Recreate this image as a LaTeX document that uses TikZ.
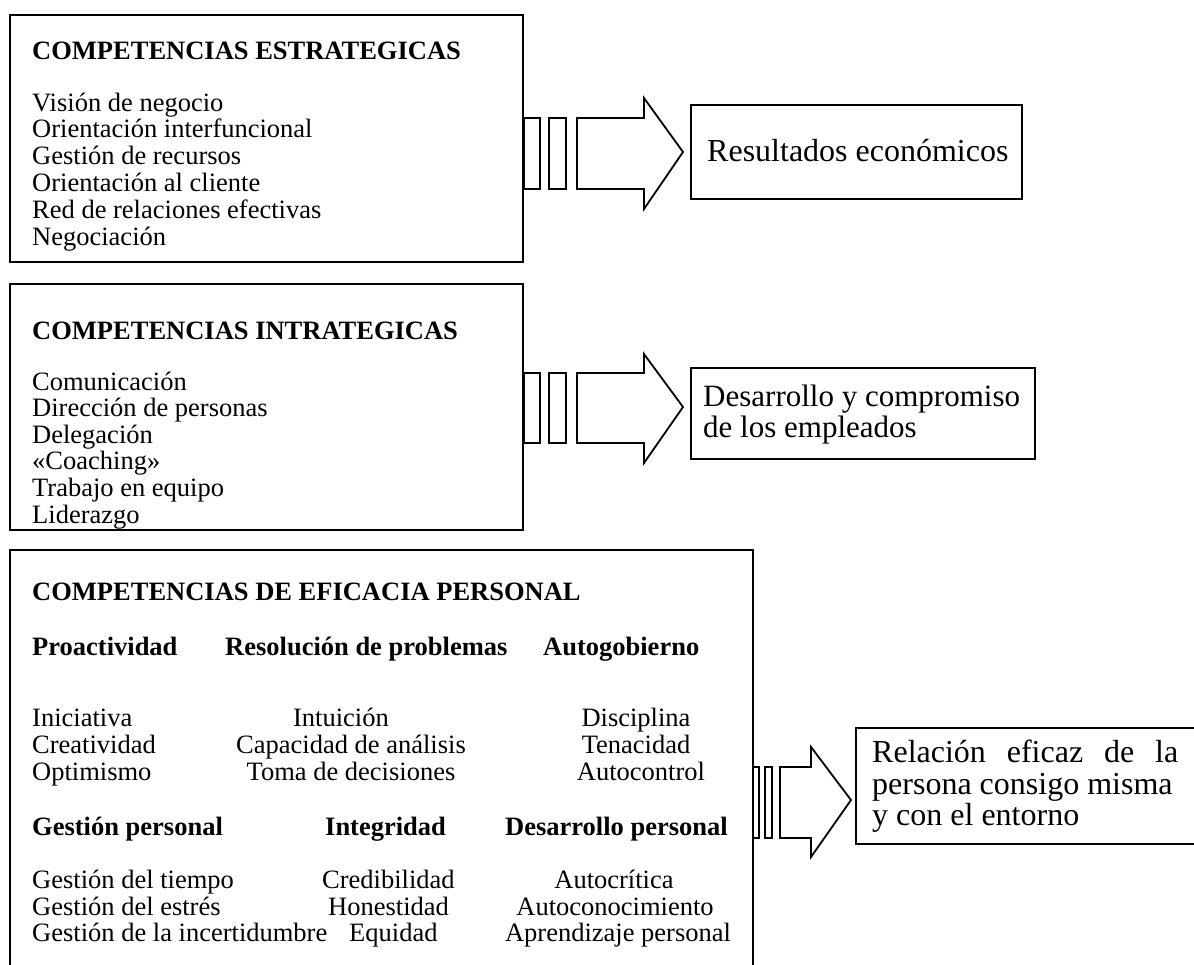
\documentclass[tikz,border=0pt]{standalone}
\usepackage{fontspec}
\setmainfont{Liberation Serif}
\begin{document}
\begin{tikzpicture}[x=1pt,y=-1pt,
  frame/.style={line width=2.2pt, line join=miter},
  blockarrow/.style={line width=1.8pt, line join=miter, fill=white},
  txt/.style={inner sep=0pt, font=\fontsize{26.5}{27}\selectfont},
  hd/.style={txt, font=\fontsize{26.5}{27}\selectfont\bfseries},
  res/.style={inner sep=0pt, font=\fontsize{32}{32}\selectfont},
  ressm/.style={inner sep=0pt, font=\fontsize{31}{31}\selectfont}]
\useasboundingbox (0,0) rectangle (1194,964);

% ---------- Box 1
\draw[frame] (10,15) rectangle (523,262);
\node[hd, anchor=base west] (h1) at (32,59) {COMPETENCIAS ESTRATEGICAS};
\node[txt, anchor=base west] (a1) at (32,111) {Visión de negocio};
\node[txt, anchor=base west] (a2) at (32,137.8) {Orientación interfuncional};
\node[txt, anchor=base west] (a3) at (32,164.6) {Gestión de recursos};
\node[txt, anchor=base west] (a4) at (32,191.4) {Orientación al cliente};
\node[txt, anchor=base west] (a5) at (32,218.2) {Red de relaciones efectivas};
\node[txt, anchor=base west] (a6) at (32,245) {Negociación};

% arrow 1
\draw[blockarrow] (524,118) rectangle (540,189);
\draw[blockarrow] (549,118) rectangle (566,189);
\draw[blockarrow] (577,118) -- (644,118) -- (644,98) -- (683,152) -- (644,209) -- (644,189) -- (577,189) -- cycle;

\draw[frame] (691,105) rectangle (1022,199);
\node[res, anchor=base west] (r1) at (707,161) {Resultados económicos};

% ---------- Box 2
\draw[frame] (10,284) rectangle (523,530);
\node[hd, anchor=base west] (h2) at (32,339) {COMPETENCIAS INTRATEGICAS};
\node[txt, anchor=base west] (b1) at (32,390) {Comunicación};
\node[txt, anchor=base west] (b2) at (32,416.6) {Dirección de personas};
\node[txt, anchor=base west] (b3) at (32,443.2) {Delegación};
\node[txt, anchor=base west] (b4) at (32,469.8) {«Coaching»};
\node[txt, anchor=base west] (b5) at (32,496.4) {Trabajo en equipo};
\node[txt, anchor=base west] (b6) at (32,523) {Liderazgo};

% arrow 2
\draw[blockarrow] (524,373) rectangle (540,443);
\draw[blockarrow] (549,373) rectangle (566,443);
\draw[blockarrow] (577,373) -- (644,373) -- (644,354) -- (683,407) -- (644,463) -- (644,443) -- (577,443) -- cycle;

\draw[frame] (691,368) rectangle (1035,459);
\node[ressm, anchor=base west] (r2a) at (703,406) {Desarrollo y compromiso};
\node[ressm, anchor=base west] (r2b) at (703,437) {de los empleados};

% ---------- Box 3
\draw[frame] (10,975) -- (10,550) -- (753,550) -- (753,975);
\node[hd, anchor=base west] (h3) at (32,600) {COMPETENCIAS DE EFICACIA PERSONAL};

\node[hd, anchor=base west] (s1) at (32,655) {Proactividad};
\node[hd, anchor=base west] (s2) at (225,655) {Resolución de problemas};
\node[hd, anchor=base west] (s3) at (543,655) {Autogobierno};

\node[txt, anchor=base west] (c11) at (32,726) {Iniciativa};
\node[txt, anchor=base west] (c12) at (32,753) {Creatividad};
\node[txt, anchor=base west] (c13) at (32,780) {Optimismo};
\node[txt, anchor=base] (c21) at (341,726) {Intuición};
\node[txt, anchor=base] (c22) at (351,753) {Capacidad de análisis};
\node[txt, anchor=base] (c23) at (351,780) {Toma de decisiones};
\node[txt, anchor=base] (c31) at (636,726) {Disciplina};
\node[txt, anchor=base] (c32) at (636,753) {Tenacidad};
\node[txt, anchor=base] (c33) at (641,780) {Autocontrol};

\node[hd, anchor=base west] (s4) at (32,835) {Gestión personal};
\node[hd, anchor=base west] (s5) at (325,835) {Integridad};
\node[hd, anchor=base west] (s6) at (505,835) {Desarrollo personal};

\node[txt, anchor=base west] (d11) at (32,888) {Gestión del tiempo};
\node[txt, anchor=base west] (d12) at (32,915) {Gestión del estrés};
\node[txt, anchor=base west] (d13) at (32,941) {Gestión de la incertidumbre};
\node[txt, anchor=base west] (d21) at (322,888) {Credibilidad};
\node[txt, anchor=base west] (d22) at (328,915) {Honestidad};
\node[txt, anchor=base west] (d23) at (349,941) {Equidad};
\node[txt, anchor=base] (d31) at (614,888) {Autocrítica};
\node[txt, anchor=base] (d32) at (615,915) {Autoconocimiento};
\node[txt, anchor=base] (d33) at (618,941) {Aprendizaje personal};

% arrow 3
\draw[blockarrow] (753,767) rectangle (759,838);
\draw[blockarrow] (765,767) rectangle (772,838);
\draw[blockarrow] (780,767) -- (811,767) -- (811,747) -- (851,800) -- (811,857) -- (811,838) -- (780,838) -- cycle;

\draw[frame] (1205,728) -- (856,728) -- (856,844) -- (1205,844);
\node[res, anchor=base west] (r3a) at (872,762) {\makebox[306pt][s]{Relación eficaz de la}};
\node[res, anchor=base west] (r3b) at (872,794) {persona consigo misma};
\node[res, anchor=base west] (r3c) at (872,825) {y con el entorno};
\end{tikzpicture}
\end{document}
